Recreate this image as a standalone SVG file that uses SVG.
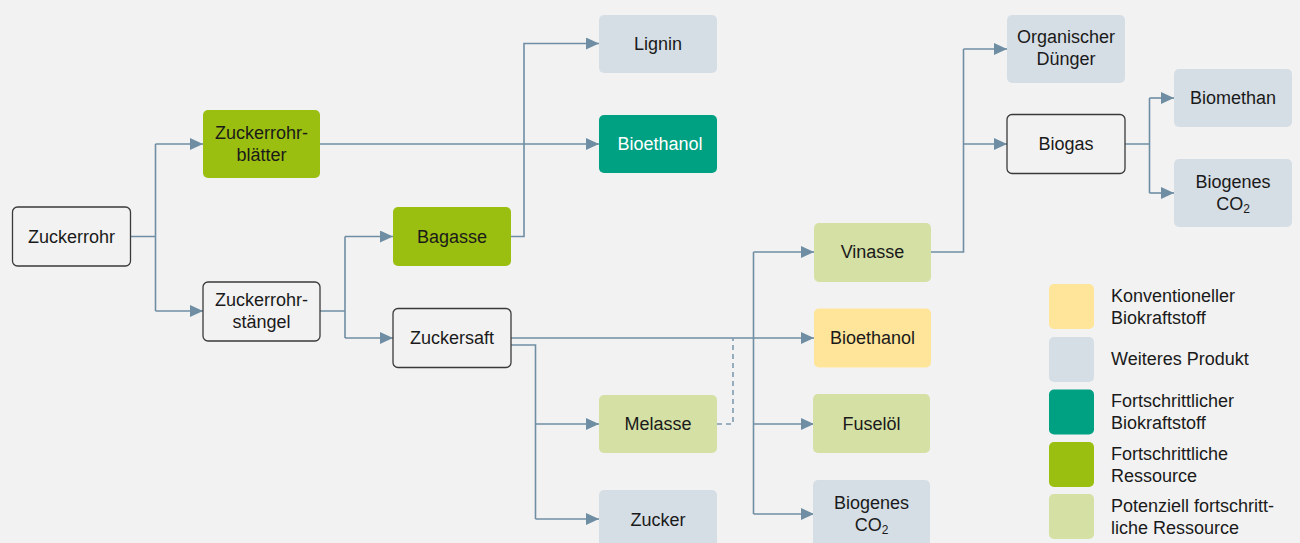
<svg xmlns="http://www.w3.org/2000/svg" width="1300" height="543" viewBox="0 0 1300 543">
<defs>
<style>
text{font-family:"Liberation Sans",Arial,sans-serif;font-size:18px;fill:#1a1a1a;text-anchor:middle}
.lt{text-anchor:start}
.w{fill:#ffffff}
.out{fill:#f2f2f2;stroke:#3a3a3a;stroke-width:1.3}
.adv{fill:#9bbf10}
.pot{fill:#d4e0a4}
.con{fill:#ffe599}
.oth{fill:#d6dee5}
.afu{fill:#00a182}
.c{fill:none;stroke:#6f8ea3;stroke-width:1.6}
.d{fill:none;stroke:#7f9bb0;stroke-width:1.6;stroke-dasharray:5 4}
.a{marker-end:url(#ah)}
</style>
<marker id="ah" viewBox="0 0 13 12" refX="13" refY="6" markerWidth="13" markerHeight="12" markerUnits="userSpaceOnUse" orient="auto">
<path d="M0,0 L13,6 L0,12 Z" fill="#6f8ea3"/>
</marker>
</defs>
<rect x="0" y="0" width="1300" height="543" fill="#f2f2f2"/>

<g id="connectors">
<path class="c" d="M131,236.5 H155.5 V144 M155.5,236.5 V311"/>
<path class="c a" d="M155.5,144 H203"/>
<path class="c a" d="M155.5,311 H203"/>
<path class="c a" d="M320,144 H599"/>
<path class="c" d="M320,311 H345 V236.5 M345,311 V338"/>
<path class="c a" d="M345,236.5 H393"/>
<path class="c a" d="M345,338 H393"/>
<path class="c a" d="M511,236.5 H524 V43.5 H599"/>
<path class="c a" d="M511,338 H814"/>
<path class="c" d="M511,345 H535.5 V519"/>
<path class="c a" d="M535.5,424 H599"/>
<path class="c a" d="M535.5,519 H599"/>
<path class="d" d="M717,424 H733 V338"/>
<path class="c" d="M753.5,252 V514"/>
<path class="c a" d="M753.5,252 H814"/>
<path class="c a" d="M753.5,424 H814"/>
<path class="c a" d="M753.5,514 H814"/>
<path class="c" d="M931,252 H963.5 V49"/>
<path class="c a" d="M963.5,49 H1007"/>
<path class="c a" d="M963.5,144 H1007"/>
<path class="c" d="M1125,144 H1149.5 V98 M1149.5,144 V193"/>
<path class="c a" d="M1149.5,98 H1174"/>
<path class="c a" d="M1149.5,193 H1174"/>
</g>

<g id="n-zuckerrohr"><rect class="out" x="12.5" y="207" width="118" height="59" rx="5"/><text x="71.5" y="242.5">Zuckerrohr</text></g>
<g id="n-blaetter"><rect class="adv" x="203" y="110" width="117" height="68" rx="5"/><text x="261.5" y="139">Zuckerrohr-</text><text x="261.5" y="161">blätter</text></g>
<g id="n-staengel"><rect class="out" x="203" y="282" width="117" height="59" rx="5"/><text x="261.5" y="306">Zuckerrohr-</text><text x="261.5" y="328">stängel</text></g>
<g id="n-bagasse"><rect class="adv" x="393" y="207" width="118" height="59" rx="5"/><text x="452" y="242.5">Bagasse</text></g>
<g id="n-zuckersaft"><rect class="out" x="393" y="308.5" width="118" height="59" rx="5"/><text x="452" y="344">Zuckersaft</text></g>
<g id="n-lignin"><rect class="oth" x="599" y="15" width="118" height="58" rx="5"/><text x="658" y="49.5">Lignin</text></g>
<g id="n-bioethanol-fort"><rect class="afu" x="599" y="115" width="118" height="58" rx="5"/><text class="w" x="660" y="150">Bioethanol</text></g>
<g id="n-melasse"><rect class="pot" x="599" y="395" width="118" height="58" rx="5"/><text x="658" y="430">Melasse</text></g>
<g id="n-zucker"><rect class="oth" x="599" y="490" width="118" height="60" rx="5"/><text x="658" y="526">Zucker</text></g>
<g id="n-vinasse"><rect class="pot" x="814" y="223" width="117" height="59" rx="5"/><text x="872.5" y="258">Vinasse</text></g>
<g id="n-bioethanol-konv"><rect class="con" x="814" y="308.5" width="117" height="59" rx="5"/><text x="872.5" y="344">Bioethanol</text></g>
<g id="n-fuseloel"><rect class="pot" x="813" y="394" width="117" height="59" rx="5"/><text x="871.5" y="430">Fuselöl</text></g>
<g id="n-co2-a"><rect class="oth" x="813" y="480" width="117" height="68" rx="5"/><text x="871.5" y="509">Biogenes</text><text x="871.5" y="531">CO<tspan font-size="12" dy="3">2</tspan></text></g>
<g id="n-duenger"><rect class="oth" x="1007" y="15" width="118" height="68" rx="5"/><text x="1066" y="43">Organischer</text><text x="1066" y="65">Dünger</text></g>
<g id="n-biogas"><rect class="out" x="1007" y="114.5" width="118" height="59" rx="5"/><text x="1066" y="150">Biogas</text></g>
<g id="n-biomethan"><rect class="oth" x="1174" y="69" width="118" height="58" rx="5"/><text x="1233" y="104">Biomethan</text></g>
<g id="n-co2-b"><rect class="oth" x="1174" y="159" width="118" height="68" rx="5"/><text x="1233" y="188">Biogenes</text><text x="1233" y="210">CO<tspan font-size="12" dy="3">2</tspan></text></g>

<g id="legend">
<rect class="con" x="1049" y="284" width="45" height="45" rx="5"/>
<text class="lt" x="1111" y="302">Konventioneller</text><text class="lt" x="1111" y="324">Biokraftstoff</text>
<rect class="oth" x="1049" y="337" width="45" height="45" rx="5"/>
<text class="lt" x="1111" y="364.5">Weiteres Produkt</text>
<rect class="afu" x="1049" y="389.5" width="45" height="45" rx="5"/>
<text class="lt" x="1111" y="407">Fortschrittlicher</text><text class="lt" x="1111" y="429">Biokraftstoff</text>
<rect class="adv" x="1049" y="442" width="45" height="45" rx="5"/>
<text class="lt" x="1111" y="459.5">Fortschrittliche</text><text class="lt" x="1111" y="481.5">Ressource</text>
<rect class="pot" x="1049" y="494" width="45" height="45" rx="5"/>
<text class="lt" x="1111" y="512">Potenziell fortschritt-</text><text class="lt" x="1111" y="534">liche Ressource</text>
</g>
</svg>
